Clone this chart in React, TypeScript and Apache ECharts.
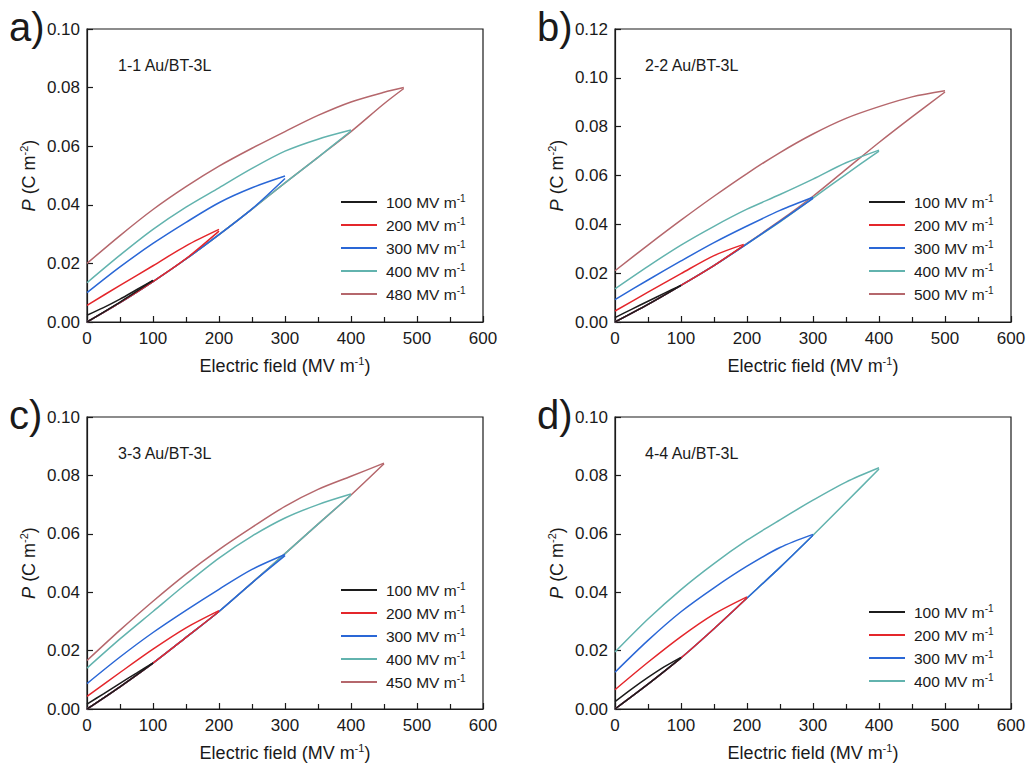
import React, { useEffect, useRef } from 'react';
import * as echarts from 'echarts';

const FONT = 'Arial, "Liberation Sans", Helvetica, sans-serif';
const INK = '#1a1a1a';

// ---------- tick / axis settings ----------
const xTicks = [0, 100, 200, 300, 400, 500, 600];
const yMaxes = [0.1, 0.12, 0.1, 0.1];
const panelLetters = ['a)', 'b)', 'c)', 'd)'];
const sampleLabels = ['1-1 Au/BT-3L', '2-2 Au/BT-3L', '3-3 Au/BT-3L', '4-4 Au/BT-3L'];
const loopColors = ['#1c1c1c', '#e4262b', '#2a67d6', '#62b3ae', '#b5676c'];

// ---------- panel a (1-1) ----------
const namesA = ['100 MV m-1', '200 MV m-1', '300 MV m-1', '400 MV m-1', '480 MV m-1'];
const a100Charge = [[0, 0], [50, 0.0068], [100, 0.0142]];
const a100Discharge = [[100, 0.0142], [75, 0.011], [50, 0.0078], [25, 0.0049], [0, 0.0023]];
const a200Charge = [[0, 0], [50, 0.0066], [100, 0.0138], [150, 0.0216], [200, 0.031]];
const a200Discharge = [[200, 0.0316], [150, 0.026], [100, 0.0192], [50, 0.0125], [0, 0.0057]];
const a300Charge = [[0, 0], [50, 0.0066], [100, 0.0138], [150, 0.0215], [200, 0.0298], [250, 0.0386], [300, 0.049]];
const a300Discharge = [[300, 0.0498], [250, 0.0458], [200, 0.0407], [150, 0.034], [100, 0.0268], [50, 0.0188], [0, 0.01]];
const a400Charge = [[0, 0], [50, 0.0066], [100, 0.0138], [150, 0.0215], [200, 0.0298], [250, 0.0385], [300, 0.0475], [350, 0.0562], [400, 0.0652]];
const a400Discharge = [[400, 0.0655], [350, 0.0624], [300, 0.0583], [250, 0.0524], [200, 0.0458], [150, 0.0392], [100, 0.0316], [50, 0.0228], [0, 0.0134]];
const a480Charge = [[0, 0], [50, 0.0066], [100, 0.0138], [150, 0.0215], [200, 0.0298], [250, 0.0385], [300, 0.0475], [350, 0.0562], [400, 0.065], [450, 0.0745], [480, 0.0797]];
const a480Discharge = [[480, 0.08], [450, 0.0784], [400, 0.0751], [350, 0.0705], [300, 0.065], [250, 0.0593], [200, 0.0532], [150, 0.0462], [100, 0.0384], [50, 0.0295], [0, 0.02]];

// ---------- panel b (2-2) ----------
const namesB = ['100 MV m-1', '200 MV m-1', '300 MV m-1', '400 MV m-1', '500 MV m-1'];
const b100Charge = [[0, 0], [50, 0.0072], [100, 0.015]];
const b100Discharge = [[100, 0.015], [75, 0.0118], [50, 0.0085], [25, 0.0052], [0, 0.0018]];
const b200Charge = [[0, 0], [50, 0.0072], [100, 0.015], [150, 0.0231], [195, 0.0314]];
const b200Discharge = [[195, 0.0318], [150, 0.0272], [100, 0.0198], [50, 0.0122], [0, 0.0045]];
const b300Charge = [[0, 0], [50, 0.0072], [100, 0.015], [150, 0.0231], [200, 0.032], [250, 0.0412], [300, 0.0506]];
const b300Discharge = [[300, 0.0511], [250, 0.0457], [200, 0.0393], [150, 0.0325], [100, 0.025], [50, 0.0172], [0, 0.0092]];
const b400Charge = [[0, 0], [50, 0.0072], [100, 0.015], [150, 0.0231], [200, 0.032], [250, 0.041], [300, 0.0507], [350, 0.0605], [400, 0.07]];
const b400Discharge = [[400, 0.0704], [350, 0.0652], [300, 0.0585], [250, 0.0522], [200, 0.0462], [150, 0.0392], [100, 0.0315], [50, 0.0228], [0, 0.0136]];
const b500Charge = [[0, 0], [50, 0.0072], [100, 0.015], [150, 0.0232], [200, 0.0322], [250, 0.0415], [300, 0.0515], [350, 0.0625], [400, 0.0735], [450, 0.084], [500, 0.0942]];
const b500Discharge = [[500, 0.0947], [450, 0.0922], [400, 0.0882], [350, 0.0834], [300, 0.077], [250, 0.0694], [200, 0.0608], [150, 0.0515], [100, 0.0417], [50, 0.0315], [0, 0.021]];

// ---------- panel c (3-3) ----------
const namesC = ['100 MV m-1', '200 MV m-1', '300 MV m-1', '400 MV m-1', '450 MV m-1'];
const c100Charge = [[0, 0], [50, 0.0076], [100, 0.0157]];
const c100Discharge = [[100, 0.0158], [75, 0.0123], [50, 0.0088], [25, 0.0052], [0, 0.0017]];
const c200Charge = [[0, 0], [50, 0.0076], [100, 0.0157], [150, 0.0245], [200, 0.0334]];
const c200Discharge = [[200, 0.0337], [150, 0.0278], [100, 0.0205], [50, 0.0125], [0, 0.0043]];
const c300Charge = [[0, 0], [50, 0.0076], [100, 0.0157], [150, 0.0245], [200, 0.0334], [250, 0.0432], [300, 0.0525]];
const c300Discharge = [[300, 0.0529], [250, 0.0478], [200, 0.041], [150, 0.0338], [100, 0.0262], [50, 0.0178], [0, 0.0087]];
const c400Charge = [[0, 0], [50, 0.0076], [100, 0.0157], [150, 0.0245], [200, 0.0334], [250, 0.0432], [300, 0.0532], [350, 0.0633], [400, 0.0733]];
const c400Discharge = [[400, 0.0736], [350, 0.07], [300, 0.0654], [250, 0.0592], [200, 0.0517], [150, 0.0428], [100, 0.0334], [50, 0.024], [0, 0.014]];
const c450Charge = [[0, 0], [50, 0.0076], [100, 0.0157], [150, 0.0245], [200, 0.0334], [250, 0.0432], [300, 0.0532], [350, 0.0633], [400, 0.0733], [450, 0.084]];
const c450Discharge = [[450, 0.0842], [400, 0.0797], [350, 0.0752], [300, 0.0694], [250, 0.0622], [200, 0.0546], [150, 0.0462], [100, 0.0369], [50, 0.027], [0, 0.0166]];

// ---------- panel d (4-4) ----------
const namesD = ['100 MV m-1', '200 MV m-1', '300 MV m-1', '400 MV m-1'];
const d100Charge = [[0, 0], [50, 0.0085], [100, 0.0175]];
const d100Discharge = [[100, 0.0177], [75, 0.0145], [50, 0.0108], [25, 0.0068], [0, 0.0025]];
const d200Charge = [[0, 0], [50, 0.0085], [100, 0.0175], [150, 0.0275], [200, 0.038]];
const d200Discharge = [[200, 0.0384], [150, 0.0325], [100, 0.0248], [50, 0.016], [0, 0.0066]];
const d300Charge = [[0, 0], [50, 0.0085], [100, 0.0175], [150, 0.0275], [200, 0.038], [250, 0.0485], [300, 0.0595]];
const d300Discharge = [[300, 0.0598], [250, 0.0553], [200, 0.0489], [150, 0.0415], [100, 0.0333], [50, 0.0235], [0, 0.0126]];
const d400Charge = [[0, 0], [50, 0.0085], [100, 0.0175], [150, 0.0275], [200, 0.038], [250, 0.0485], [300, 0.0595], [350, 0.0708], [400, 0.0822]];
const d400Discharge = [[400, 0.0826], [350, 0.0777], [300, 0.0715], [250, 0.0648], [200, 0.0578], [150, 0.0498], [100, 0.0409], [50, 0.0308], [0, 0.0195]];

const panels = [
  { names: namesA, loops: [[a100Charge, a100Discharge], [a200Charge, a200Discharge], [a300Charge, a300Discharge], [a400Charge, a400Discharge], [a480Charge, a480Discharge]] },
  { names: namesB, loops: [[b100Charge, b100Discharge], [b200Charge, b200Discharge], [b300Charge, b300Discharge], [b400Charge, b400Discharge], [b500Charge, b500Discharge]] },
  { names: namesC, loops: [[c100Charge, c100Discharge], [c200Charge, c200Discharge], [c300Charge, c300Discharge], [c400Charge, c400Discharge], [c450Charge, c450Discharge]] },
  { names: namesD, loops: [[d100Charge, d100Discharge], [d200Charge, d200Discharge], [d300Charge, d300Discharge], [d400Charge, d400Discharge]] },
];

// ---------- layout ----------
const grids = [
  { left: 87, top: 29, width: 396, height: 293 },
  { left: 615, top: 29, width: 396, height: 293 },
  { left: 87, top: 417, width: 396, height: 292 },
  { left: 615, top: 417, width: 396, height: 292 },
];
const legendPos = [
  { left: 336, top: 188 },
  { left: 864, top: 188 },
  { left: 336, top: 576 },
  { left: 864, top: 598 },
];
const letterPos = [[9, 27], [537, 27], [9, 415], [537, 415]];
const labelPos = [[118, 65], [645, 65], [118, 453], [645, 453]];

const supRich = {
  n: { fontSize: 18, fontFamily: FONT, color: INK, lineHeight: 22 },
  i: { fontSize: 18, fontFamily: FONT, color: INK, fontStyle: 'italic', lineHeight: 22 },
  s: { fontSize: 11, fontFamily: FONT, color: INK, verticalAlign: 'top', lineHeight: 12 },
};

function buildOption() {
  const axisLine = { show: true, onZero: false, lineStyle: { color: INK, width: 1.2 } };
  const xAxis = grids.map((_, i) => ({
    type: 'value',
    gridIndex: i,
    min: xTicks[0],
    max: xTicks[xTicks.length - 1],
    interval: 100,
    axisLine,
    axisTick: { show: true, inside: true, length: 6, lineStyle: { color: INK, width: 1.2 } },
    minorTick: { show: true, splitNumber: 2, length: 5, lineStyle: { color: INK, width: 1.2 } },
    splitLine: { show: false },
    axisLabel: { fontSize: 17, color: INK, fontFamily: FONT, margin: 8 },
    name: '{n|Electric field (MV m}{s|-1}{n|)}',
    nameLocation: 'middle',
    nameGap: 33,
    nameTextStyle: { rich: supRich },
  }));
  const yAxis = grids.map((_, i) => ({
    type: 'value',
    gridIndex: i,
    min: 0,
    max: yMaxes[i],
    interval: 0.02,
    axisLine,
    axisTick: { show: true, inside: true, length: 6, lineStyle: { color: INK, width: 1.2 } },
    splitLine: { show: false },
    axisLabel: { fontSize: 17, color: INK, fontFamily: FONT, margin: 7, formatter: (v: number) => v.toFixed(2) },
    name: '{i|P}{n| (C m}{s|-2}{n|)}',
    nameLocation: 'middle',
    nameRotate: 90,
    nameGap: 47,
    nameTextStyle: { rich: supRich },
  }));

  const series: any[] = [];
  panels.forEach((p, pi) => {
    // draw larger loops first so smaller ones sit on top
    for (let li = p.loops.length - 1; li >= 0; li--) {
      const [charge, discharge] = p.loops[li];
      [charge, discharge].forEach((data) => {
        series.push({
          type: 'line',
          name: p.names[li],
          xAxisIndex: pi,
          yAxisIndex: pi,
          data,
          smooth: 0.3,
          symbol: 'none',
          showSymbol: false,
          color: loopColors[li],
          lineStyle: { color: loopColors[li], width: 1.5 },
          emphasis: { disabled: true },
          silent: true,
        });
      });
    }
  });

  const legend = panels.map((p, pi) => ({
    orient: 'vertical',
    left: legendPos[pi].left,
    top: legendPos[pi].top,
    icon: 'rect',
    itemWidth: 36,
    itemHeight: 2,
    itemGap: 6,
    selectedMode: false,
    data: p.names,
    formatter: (name: string) => `{n|${name.slice(0, -2)}}{s|-1}`,
    textStyle: {
      padding: [0, 0, 0, 4],
      rich: {
        n: { fontSize: 15.5, fontFamily: FONT, color: INK, lineHeight: 18 },
        s: { fontSize: 10, fontFamily: FONT, color: INK, verticalAlign: 'top', lineHeight: 10 },
      },
    },
  }));

  const graphic: any[] = [];
  panelLetters.forEach((t, i) => {
    graphic.push({
      type: 'text',
      x: letterPos[i][0],
      y: letterPos[i][1],
      style: { text: t, fontSize: 40, fontFamily: FONT, fill: INK, verticalAlign: 'middle' },
    });
    graphic.push({
      type: 'text',
      x: labelPos[i][0],
      y: labelPos[i][1],
      style: { text: sampleLabels[i], fontSize: 16, fontFamily: FONT, fill: INK, verticalAlign: 'middle' },
    });
  });

  return {
    animation: false,
    backgroundColor: '#ffffff',
    grid: grids.map((g) => ({ ...g, show: true, borderColor: INK, borderWidth: 1.2, backgroundColor: 'transparent', containLabel: false })),
    xAxis,
    yAxis,
    legend,
    series,
    graphic,
  };
}

export default function App() {
  const ref = useRef<HTMLDivElement>(null);
  useEffect(() => {
    const chart = echarts.init(ref.current as HTMLDivElement, null, { renderer: 'svg' });
    chart.setOption(buildOption() as any);
    return () => chart.dispose();
  }, []);
  return (
    <div
      ref={ref}
      style={{ position: 'fixed', left: 0, top: 0, width: 1032, height: 769, background: '#ffffff' }}
    />
  );
}
